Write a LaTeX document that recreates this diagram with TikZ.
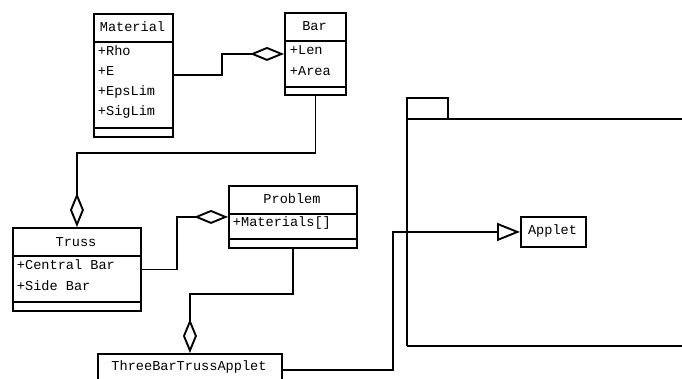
\documentclass[tikz,border=0pt]{standalone}
\usepackage{fontspec}
\setmonofont{Liberation Mono}
\usetikzlibrary{arrows.meta}
\begin{document}
\begin{tikzpicture}[x=1pt,y=-1pt,
  line width=1.9pt,
  classbox/.style={draw, anchor=north west, inner sep=0pt},
  txt/.style={inner sep=0pt, font=\ttfamily\fontsize{13.6}{15}\selectfont},
  attr/.style={txt, anchor=west},
  agg/.style={-{Diamond[open, length=34pt, width=14pt, line width=1.9pt]}},
  gen/.style={-{Triangle[open, length=23pt, width=18pt, line width=1.9pt]}}]
\clip (0,0) rectangle (682,379);
% Material
\node[classbox, minimum width=79pt, minimum height=123pt] (material) at (93,13) {};
\draw (93,42) -- (172,42) (93,128) -- (172,128);
\node[txt] (materialt) at (132.5,27) {Material};
\node[attr] (m1) at (97,50.5) {+Rho};
\node[attr] (m2) at (97,71) {+E};
\node[attr] (m3) at (97,91.5) {+EpsLim};
\node[attr] (m4) at (97,112) {+SigLim};
% Bar
\node[classbox, minimum width=61pt, minimum height=82pt] (bar) at (284,12) {};
\draw (284,41) -- (345,41) (284,87) -- (345,87);
\node[txt] (bart) at (314.5,26) {Bar};
\node[attr] (b1) at (289,50) {+Len};
\node[attr] (b2) at (289,71) {+Area};
% Truss
\node[classbox, minimum width=128pt, minimum height=83pt] (truss) at (12,227) {};
\draw (12,256) -- (140,256) (12,302) -- (140,302);
\node[txt] (trusst) at (76,242) {Truss};
\node[attr] (t1) at (16,265) {+Central Bar};
\node[attr] (t2) at (16,286) {+Side Bar};
% Problem
\node[classbox, minimum width=128pt, minimum height=62pt] (problem) at (228,185) {};
\draw (228,214) -- (356,214) (228,239) -- (356,239);
\node[txt] (problemt) at (292,199) {Problem};
\node[attr] (p1) at (232,223) {+Materials[]};
% ThreeBarTrussApplet
\node[classbox, minimum width=184pt, minimum height=32pt] (three) at (97,353) {};
\node[txt] (threet) at (189,367) {ThreeBarTrussApplet};
% Package
\draw (407,346) -- (407,98) -- (448,98) -- (448,119);
\draw (407,119) -- (700,119);
\draw (407,346) -- (700,346);
% Applet
\node[classbox, minimum width=65pt, minimum height=30pt] (applet) at (520,216) {};
\node[txt] (appt) at (552.5,231) {Applet};
% connectors
\coordinate (k1) at (222,0);
\coordinate (k2) at (0,153);
\coordinate (k3) at (177,0);
\coordinate (k4) at (0,294);
\coordinate (k5) at (393,0);
\draw[agg] (material.east) -- (material.east -| k1) |- (bar.west);
\draw[agg] (bar.south) -- (bar.south |- k2) -| (truss.north);
\draw[agg] (truss.east) -- (truss.east -| k3) |- (problem.west);
\draw[agg] (problem.south) -- (problem.south |- k4) -| (three.north);
\draw[gen] (three.east) -- (three.east -| k5) |- (applet.west);
\end{tikzpicture}
\end{document}
